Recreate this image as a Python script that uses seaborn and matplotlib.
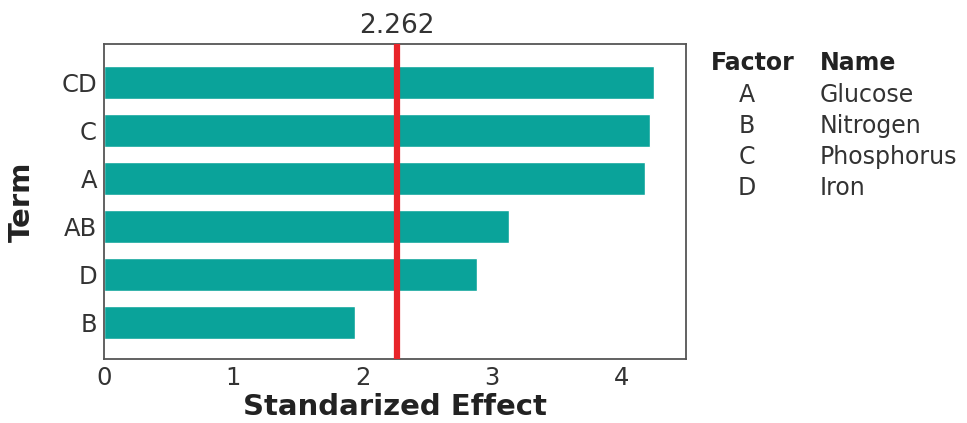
import pandas as pd
import seaborn as sns
import matplotlib.pyplot as plt

# Pareto of standardized effects
terms = ["CD", "C", "A", "AB", "D", "B"]
effects = [4.25, 4.22, 4.18, 3.13, 2.88, 1.94]
crit = 2.262

factors = ["A", "B", "C", "D"]
names = ["Glucose", "Nitrogen", "Phosphorus", "Iron"]

df = pd.DataFrame({"Term": terms, "Effect": effects})

sns.set_style("white")
plt.rcParams["font.family"] = ["DejaVu Sans"]

fig = plt.figure(figsize=(9.67, 4.23), dpi=100)
ax = fig.add_axes([0.1075, 0.151, 0.602, 0.745])

sns.barplot(data=df, x="Effect", y="Term", order=terms, color="#0aa39a",
            saturation=1, width=0.69, ax=ax)
ax.axvline(crit, color="#e8242a", lw=4.5, zorder=3)
ax.text(crit, 1.015, f"{crit:.3f}", transform=ax.get_xaxis_transform(),
        ha="center", va="bottom", fontsize=19, color="#333333")

ax.set_xlim(0, 4.5)
ax.set_ylim(5.77, -0.8)
ax.set_xticks([0, 1, 2, 3, 4])
ax.tick_params(axis="both", labelsize=17.5, colors="#333333", length=0, pad=5)
ax.set_xlabel("Standarized Effect", fontsize=21, fontweight="bold", color="#222222", labelpad=2)
ax.set_ylabel("Term", fontsize=21, fontweight="bold", color="#222222")
ax.yaxis.set_label_coords(-0.117, 0.5)
for s in ax.spines.values():
    s.set_color("#555555")
    s.set_linewidth(1.3)

# factor key on the right
fig.text(0.735, 0.852, "Factor", fontsize=17, fontweight="bold", color="#222222", va="center")
fig.text(0.848, 0.852, "Name", fontsize=17, fontweight="bold", color="#222222", va="center")
for i, (f, n) in enumerate(zip(factors, names)):
    y = 0.776 - i * 0.0735
    fig.text(0.7725, y, f, fontsize=17, color="#333333", va="center", ha="center")
    fig.text(0.848, y, n, fontsize=17, color="#333333", va="center")

fig.savefig("out.png", dpi=100)
